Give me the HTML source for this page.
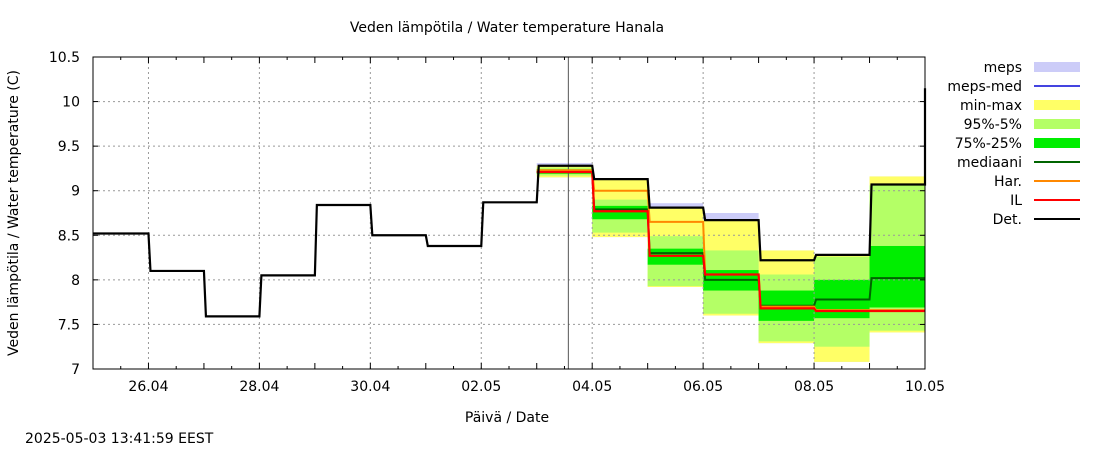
<!DOCTYPE html>
<html><head><meta charset="utf-8">
<style>
body{margin:0;background:#fff;}
svg{font-family:"DejaVu Sans","Liberation Sans",sans-serif;}
</style></head>
<body>
<svg id="chart" width="1100" height="450" xmlns="http://www.w3.org/2000/svg">
<rect width="1100" height="450" fill="#fff"/>
<text x="507" y="32" text-anchor="middle" font-size="14">Veden lämpötila / Water temperature Hanala</text>
<text x="507" y="422" text-anchor="middle" font-size="14">Päivä / Date</text>
<text transform="translate(18,213) rotate(-90)" text-anchor="middle" font-size="14">Veden lämpötila / Water temperature (C)</text>
<text x="25" y="443" font-size="14">2025-05-03 13:41:59 EEST</text>
<g id="bands"></g>
<g id="grid"></g>
<g id="lines"></g>
<rect x="93" y="57" width="832" height="312" fill="none" stroke="#000" stroke-width="1"/>
<g id="axes"></g>
<g id="legend"></g>
</svg>
<script>
// ---- data ----
const histDays = [0,1,2,3,4,5,6,7]; // day index from 25.04
const histDet = [8.52,8.10,7.59,8.05,8.84,8.50,8.38,8.87];
const fcDays = [8,9,10,11,12,13,14]; // 03.05 .. 09.05
const fcDet = [9.28,9.13,8.81,8.67,8.22,8.28,9.07];
const detEnd = 10.15;
const mepsMax = [9.31,9.13,8.86,8.75,8.33,8.28,9.16];
const minV = [9.15,8.48,7.92,7.60,7.29,7.08,7.41];
const maxV = [9.28,9.13,8.81,8.67,8.33,8.28,9.16];
const p5 = [9.17,8.53,7.93,7.62,7.31,7.25,7.43];
const p95 = [9.26,8.90,8.49,8.33,8.06,8.26,9.06];
const p25 = [9.19,8.68,8.17,7.88,7.54,7.57,7.69];
const p75 = [9.24,8.83,8.35,8.11,7.88,8.00,8.38];
const median = [9.21,8.79,8.30,8.00,7.71,7.78,8.02];
const har = [9.23,9.00,8.65,8.06,7.70,7.66,7.66];
const il = [9.21,8.77,8.27,8.06,7.68,7.65,7.65];
const yTicks = [7,7.5,8,8.5,9,9.5,10,10.5];
const yTickLabels = ["7","7.5","8","8.5","9","9.5","10","10.5"];
const xTickDays = [1,3,5,7,9,11,13,15];
const xTickLabels = ["26.04","28.04","30.04","02.05","04.05","06.05","08.05","10.05"];
const nowDay = 8.57;
const legendNames = ["meps","meps-med","min-max","95%-5%","75%-25%","mediaani","Har.","IL","Det."];
const legendColors = ["#ccccf8","#4444e0","#ffff66","#b4ff66","#00ee00","#006400","#ff8800","#ff0000","#000000"];
const legendTypes = ["box","line","box","box","box","line","line","line","line"];
// ---- scales ----
const X0=93, DAYW=832/15, Y0=369, YS=312/3.5;
const xs=d=>X0+d*DAYW;
const ys=v=>Y0-(v-7)*YS;
const NS="http://www.w3.org/2000/svg";
function mk(tag,parent,attrs){const e=document.createElementNS(NS,tag);for(const k in attrs)e.setAttribute(k,attrs[k]);parent.appendChild(e);return e;}
const bands=document.getElementById('bands'),grid=document.getElementById('grid'),lines=document.getElementById('lines'),axes=document.getElementById('axes'),legend=document.getElementById('legend');
function band(lo,hi,col,name){
  fcDays.forEach((d,i)=>{
    const r=mk('rect',bands,{x:xs(d),y:ys(hi[i]),width:DAYW,height:ys(lo[i])-ys(hi[i]),fill:col});
    
    
  });
}
band(minV,mepsMax,"#ccccf8","meps");
band(minV,maxV,"#ffff66","min-max");
band(p5,p95,"#b4ff66","p95-p5");
band(p25,p75,"#00ee00","p75-p25");
yTicks.forEach((v,i)=>{
  if(v>7&&v<10.5){const g=mk('line',grid,{x1:X0,x2:925,y1:ys(v),y2:ys(v),stroke:"#999","stroke-dasharray":"2,3","stroke-width":1});
  }
  const t=mk('text',axes,{x:80,y:ys(v)+5,"text-anchor":"end","font-size":14});t.textContent=yTickLabels[i];
  
  mk('line',axes,{x1:X0,x2:X0+5,y1:ys(v),y2:ys(v),stroke:"#000"});
  mk('line',axes,{x1:920,x2:925,y1:ys(v),y2:ys(v),stroke:"#000"});
});
xTickDays.forEach((d,i)=>{
  if(d<15){const g=mk('line',grid,{x1:xs(d),x2:xs(d),y1:57,y2:369,stroke:"#999","stroke-dasharray":"2,3","stroke-width":1});
  }
  const t=mk('text',axes,{x:xs(d),y:391,"text-anchor":"middle","font-size":14});t.textContent=xTickLabels[i];
  
});
for(let h=1;h<30;h++){const x=xs(h/2);const L=h%2?3:6;
  mk('line',axes,{x1:x,x2:x,y1:369,y2:369-L,stroke:"#000"});mk('line',axes,{x1:x,x2:x,y1:57,y2:57+L,stroke:"#000"});}
const nl=mk('line',lines,{x1:xs(nowDay),x2:xs(nowDay),y1:57,y2:369,stroke:"#555","stroke-width":1});

function step(days,vals,col,w,name,endVal){
  let d="";
  days.forEach((dd,i)=>{const x=xs(dd),y=ys(vals[i]);
    d+=(i?"L"+(x+2)+","+y:"M"+x+","+y)+" L"+(xs(dd+1))+","+y+" ";});
  if(endVal!==undefined)d+="L"+xs(days[days.length-1]+1)+","+ys(endVal);
  const p=mk('path',lines,{d:d,fill:"none",stroke:col,"stroke-width":w});
  
}
step(fcDays,median,"#006400",2,"median");
step(fcDays,har,"#ff8800",2,"har");
step(fcDays,il,"#ff0000",2.2,"il");
step(histDays.concat(fcDays),histDet.concat(fcDet),"#000",2.2,"det",detEnd);
legendNames.forEach((n,i)=>{
  const y=67+i*19;
  const t=mk('text',legend,{x:1022,y:y+5,"text-anchor":"end","font-size":14});t.textContent=n;
  
  let s;
  if(legendTypes[i]=="box")s=mk('rect',legend,{x:1034,y:y-5,width:46,height:10,fill:legendColors[i]});
  else s=mk('line',legend,{x1:1034,x2:1080,y1:y,y2:y,stroke:legendColors[i],"stroke-width":2});
  
});
</script>
</body></html>
